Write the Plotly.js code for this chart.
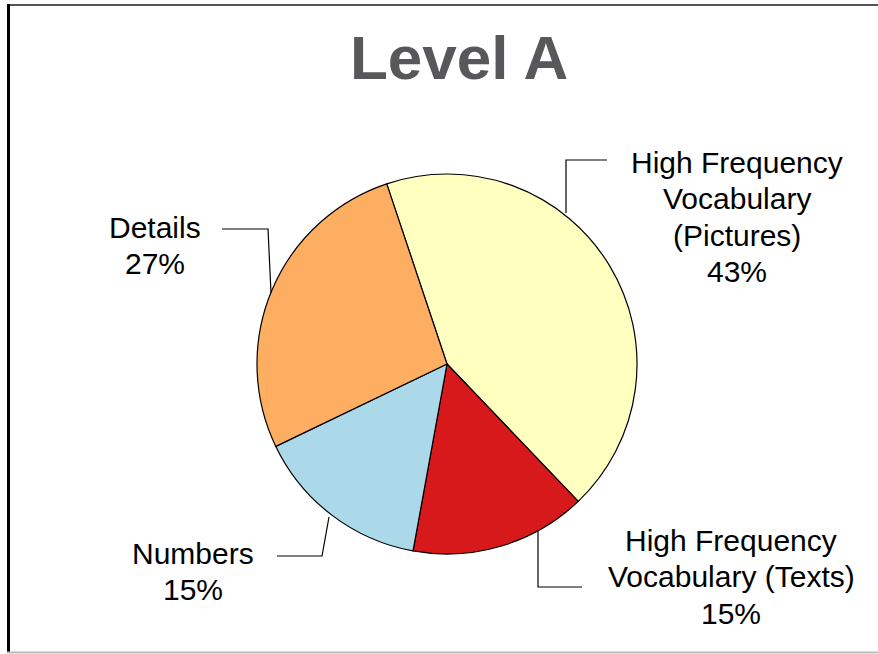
<!DOCTYPE html>
<html>
<head>
<meta charset="utf-8">
<script src="https://cdn.plot.ly/plotly-3.0.1.min.js"></script>
<style>html,body{margin:0;padding:0;background:#fff;}#chart{width:878px;height:654px;}</style>
</head>
<body>
<div id="chart"></div>
<script>
// Data
const categories = ["High Frequency Vocabulary (Pictures)", "High Frequency Vocabulary (Texts)", "Numbers", "Details"];
const labelLines = [["High Frequency", "Vocabulary", "(Pictures)"], ["High Frequency", "Vocabulary (Texts)"], ["Numbers"], ["Details"]];
const values = [43, 15, 15, 27];
const colors = ["#ffffbf", "#d7191c", "#abd9e9", "#fdae61"];

const W = 878, H = 654;
const px = x => x / W;
const py = y => 1 - y / H;

// label placement (pixels: center x, first line center y) and elbow leader lines
const labelPos = [[737, 162.5], [731, 540.5], [193, 553], [155, 227.5]];
const lineStep = 36.4;
const leaders = [
  [[566, 213], [566, 160], [607, 160]],
  [[538, 530], [538, 587], [582, 587]],
  [[329, 517], [322, 556], [277, 556]],
  [[271, 293], [268, 229], [222, 229]]
];

const annotations = [];
categories.forEach((c, i) => {
  const lines = labelLines[i].concat([values[i] + "%"]);
  lines.forEach((t, k) => {
    annotations.push({
      text: t, x: px(labelPos[i][0]), y: py(labelPos[i][1] + k * lineStep),
      xref: "paper", yref: "paper", xanchor: "center", yanchor: "middle",
      showarrow: false, align: "center",
      font: {family: "Liberation Sans, Arial, sans-serif", size: 30, color: "#000"}
    });
  });
});
annotations.push({
  text: "<b>Level A</b>", x: px(459), y: py(58), xref: "paper", yref: "paper",
  xanchor: "center", yanchor: "middle", showarrow: false,
  font: {family: "Liberation Sans, Arial, sans-serif", size: 62, color: "#58585a"}
});

const shapes = leaders.map(pts => ({
  type: "path", xref: "paper", yref: "paper",
  path: "M" + pts.map(p => px(p[0]) + "," + py(p[1])).join(" L"),
  line: {color: "#000", width: 1.2}
}));
// frame
shapes.push({type: "line", xref: "paper", yref: "paper", x0: px(7), x1: 1, y0: py(5), y1: py(5), line: {color: "#555", width: 2}});
shapes.push({type: "line", xref: "paper", yref: "paper", x0: px(8.5), x1: px(8.5), y0: py(4), y1: py(652), line: {color: "#000", width: 3}});
shapes.push({type: "line", xref: "paper", yref: "paper", x0: px(7), x1: 1, y0: py(652.5), y1: py(652.5), line: {color: "#bbb", width: 2}});

const trace = {
  type: "pie", labels: categories, values: values, sort: false,
  direction: "clockwise", rotation: -18.5,
  marker: {colors: colors, line: {color: "#000", width: 1.2}},
  textinfo: "none", hoverinfo: "label+percent",
  domain: {x: [px(257), px(637)], y: [py(554), py(174)]}
};

Plotly.newPlot("chart", [trace], {
  width: W, height: H, margin: {l: 0, r: 0, t: 0, b: 0},
  paper_bgcolor: "#fff", showlegend: false,
  annotations: annotations, shapes: shapes
}, {staticPlot: true});
</script>
</body>
</html>
